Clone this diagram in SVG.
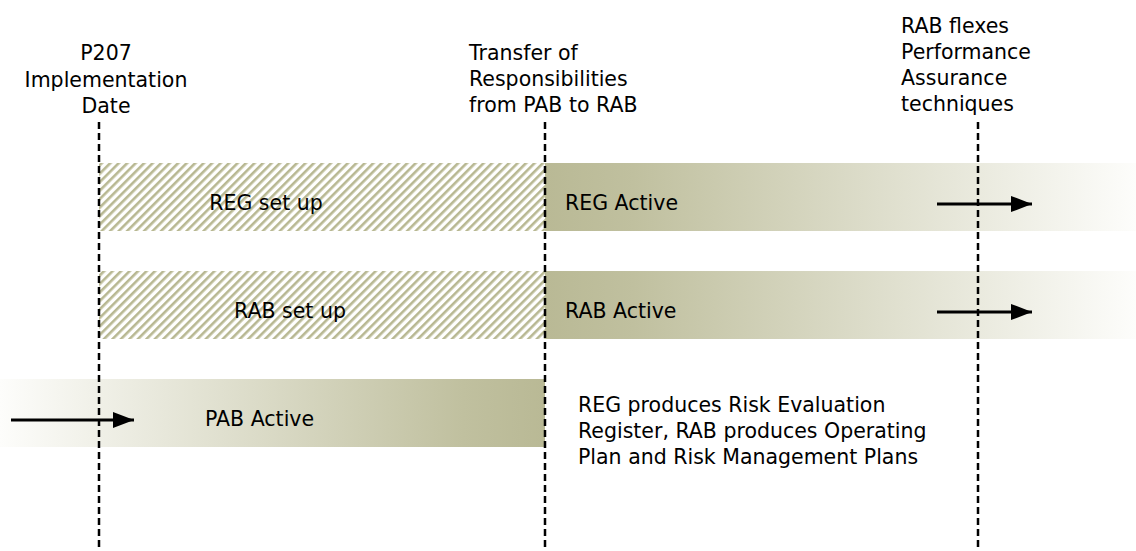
<svg xmlns="http://www.w3.org/2000/svg" width="1136" height="551" viewBox="0 0 1136 551">
<style>
text{font-family:"DejaVu Sans","Liberation Sans",sans-serif;font-size:20.5px;fill:#000}
.dash{stroke:#000;stroke-width:2.5;stroke-dasharray:7 4;fill:none}
.arr{stroke:#000;stroke-width:3;fill:none;marker-end:url(#ah)}
</style>
<defs>
<pattern id="hatch" width="6" height="6" patternUnits="userSpaceOnUse" patternTransform="rotate(45)">
<rect width="6" height="6" fill="#fff"/>
<rect width="2.6" height="6" fill="#b8b892"/>
</pattern>
<linearGradient id="fadeR" x1="0" y1="0" x2="1" y2="0">
<stop offset="0" stop-color="#b9b995"/>
<stop offset="0.15" stop-color="#c0c09f"/>
<stop offset="1" stop-color="#fdfdfb"/>
</linearGradient>
<linearGradient id="fadeL" x1="0" y1="0" x2="1" y2="0">
<stop offset="0" stop-color="#fdfdfb"/>
<stop offset="0.85" stop-color="#c0c09f"/>
<stop offset="1" stop-color="#b9b995"/>
</linearGradient>
<marker id="ah" markerWidth="8" markerHeight="8" refX="7" refY="4" orient="auto" markerUnits="strokeWidth">
<path d="M0,1.3 L7,4 L0,6.7 Z" fill="#000"/>
</marker>
</defs>
<g id="reg-setup"><rect x="99" y="163" width="446" height="68" fill="url(#hatch)"/><text x="266" y="210" text-anchor="middle">REG set up</text></g>
<g id="reg-active"><rect x="545" y="163" width="591" height="68" fill="url(#fadeR)"/><text x="565" y="210">REG Active</text></g>
<g id="rab-setup"><rect x="99" y="271" width="446" height="68" fill="url(#hatch)"/><text x="290" y="318" text-anchor="middle">RAB set up</text></g>
<g id="rab-active"><rect x="545" y="271" width="591" height="68" fill="url(#fadeR)"/><text x="565" y="318">RAB Active</text></g>
<g id="pab-active"><rect x="0" y="379" width="545" height="68" fill="url(#fadeL)"/><text x="205" y="426">PAB Active</text></g>
<g id="label-p207"><text x="106" y="60" text-anchor="middle">P207</text><text x="106" y="87" text-anchor="middle">Implementation</text><text x="106" y="113" text-anchor="middle">Date</text></g>
<g id="label-transfer"><text x="469" y="60">Transfer of</text><text x="469" y="86">Responsibilities</text><text x="469" y="112">from PAB to RAB</text></g>
<g id="label-flex"><text x="901" y="33">RAB flexes</text><text x="901" y="59">Performance</text><text x="901" y="85">Assurance</text><text x="901" y="111">techniques</text></g>
<g id="label-produces"><text x="578" y="412">REG produces Risk Evaluation</text><text x="578" y="438">Register, RAB produces Operating</text><text x="578" y="464">Plan and Risk Management Plans</text></g>
<g id="connectors">
<line class="dash" x1="99" y1="122" x2="99" y2="551"/>
<line class="dash" x1="545" y1="122" x2="545" y2="551"/>
<line class="dash" x1="978" y1="122" x2="978" y2="551"/>
<line class="arr" x1="937" y1="204" x2="1032" y2="204"/>
<line class="arr" x1="937" y1="312" x2="1032" y2="312"/>
<line class="arr" x1="11" y1="420" x2="134" y2="420"/>
</g>
</svg>
